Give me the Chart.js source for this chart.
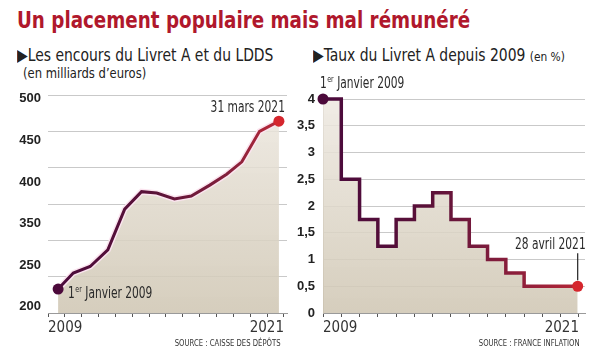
<!DOCTYPE html>
<html lang="fr">
<head>
<meta charset="utf-8">
<title>Un placement populaire mais mal rémunéré</title>
<script src="https://cdn.jsdelivr.net/npm/chart.js@4.4.1/dist/chart.umd.min.js"></script>
<style>
  body { margin: 0; background: #fff; }
  #page {
    position: relative; width: 602px; height: 354px; overflow: hidden;
    font-family: 'DejaVu Sans Condensed', sans-serif; color: #222;
  }
  .abs { position: absolute; white-space: nowrap; line-height: 1; margin: 0; transform-origin: 0 0; }
  h1.abs { font-size: 23px; font-weight: bold; color: #b0182c; left: 17px; top: 9px; transform: scaleX(0.885); }
  .sub { font-size: 17px; top: 47px; transform: scaleX(0.91); }
  .sub small { font-size: 13px; }
  .unit { font-size: 14px; left: 23px; top: 66px; transform: scaleX(0.92); }
  .src { font-size: 9px; color: #333; top: 339px; transform-origin: 100% 0; transform: scaleX(0.85); }
  .box { position: absolute; top: 70px; }
</style>
</head>
<body>
<div id="page">
  <h1 class="abs">Un placement populaire mais mal rémunéré</h1>
  <div class="abs sub" style="left:17px">▶Les encours du Livret A et du LDDS</div>
  <div class="abs unit">(en milliards d’euros)</div>
  <div class="abs sub" style="left:313px">▶Taux du Livret A depuis 2009 <small>(en %)</small></div>

  <div class="box" style="left:0"><canvas id="encours" width="300" height="280"></canvas></div>
  <div class="box" style="left:285px"><canvas id="taux" width="317" height="280"></canvas></div>

  <div class="abs src" style="right:321px">SOURCE : CAISSE DES DÉPÔTS</div>
  <div class="abs src" style="right:22px">SOURCE : FRANCE INFLATION</div>
</div>
<script>
// encours du Livret A + LDDS (milliards d'euros), position in axis graduations
const encoursPos = [0.6, 1.5, 2.5, 3.55, 4.55, 5.55, 6.45, 7.5, 8.5, 9.6, 10.6, 11.5, 12.55, 13.7];
const encoursVal = [233, 255, 264, 287, 343, 367, 365, 357, 361, 376, 391, 408, 450, 464];
const encoursLabels = ['200', '250', '350', '400', '450', '500'];

// taux du Livret A (%), one step per graduation
const tauxPos = [0, 1, 2, 3, 4, 5, 6, 7, 8, 9, 10, 11, 13.93];
const tauxVal = [4, 2.5, 1.75, 1.25, 1.75, 2, 2.25, 1.75, 1.25, 1, 0.75, 0.5, 0.5];
const tauxLabels = ['0', '0,5', '1', '1,5', '2', '2,5', '3', '3,5', '4'];

const graduations = [0, 1, 2, 3, 4, 5, 6, 7, 8, 9, 10, 11, 12, 13, 14];
const axisYears = ['2009', '2021'];

const startNote = ['1', 'er', ' Janvier 2009'];
const endNoteEncours = '31 mars 2021';
const endNoteTaux = '28 avril 2021';

const FONT = "'DejaVu Sans Condensed', sans-serif";
const TICKFONT = "'Liberation Sans', Arial, sans-serif";
const NARROW = 0.79; // horizontal squeeze of the note texts
const plum = '#4c0a3b';
const dotRed = '#d5262d';

function lineGradient(chart, stops) {
  const a = chart.chartArea;
  if (!a) return stops[0][1];
  const g = chart.ctx.createLinearGradient(a.left, 0, a.right, 0);
  stops.forEach(s => g.addColorStop(s[0], s[1]));
  return g;
}

function fillGradient(chart) {
  const a = chart.chartArea;
  if (!a) return 'rgba(220,212,196,0.85)';
  const g = chart.ctx.createLinearGradient(0, a.top, 0, a.bottom);
  g.addColorStop(0, 'rgba(238,233,225,0.85)');
  g.addColorStop(1, 'rgba(208,199,180,0.88)');
  return g;
}

function narrowText(ctx, text, x, y, align) {
  ctx.save();
  ctx.translate(x, y);
  ctx.scale(NARROW, 1);
  ctx.textAlign = align;
  ctx.textBaseline = 'alphabetic';
  ctx.font = '15px ' + FONT;
  ctx.fillText(text, 0, 0);
  ctx.restore();
}

function drawStartNote(ctx, x, y) {
  ctx.save();
  ctx.translate(x, y);
  ctx.scale(NARROW, 1);
  ctx.textAlign = 'left';
  ctx.textBaseline = 'alphabetic';
  ctx.font = '15px ' + FONT;
  ctx.fillText(startNote[0], 0, 0);
  let w = ctx.measureText(startNote[0]).width;
  ctx.font = '9px ' + FONT;
  ctx.fillText(startNote[1], w + 0.5, -6);
  w += ctx.measureText(startNote[1]).width + 0.5;
  ctx.font = '15px ' + FONT;
  ctx.fillText(startNote[2], w, 0);
  ctx.restore();
}

const xAxis = (max) => ({
  type: 'linear',
  min: 0,
  max: max,
  afterBuildTicks: s => { s.ticks = graduations.map(v => ({ value: v })); },
  afterFit: s => { s.height = 30; },
  grid: { drawOnChartArea: false, drawTicks: true, tickLength: 4, color: '#555' },
  border: { display: true, color: '#9a9a9a' },
  ticks: {
    autoSkip: false, maxRotation: 0, align: 'inner', padding: 2, color: '#333',
    font: { family: FONT, size: 15 },
    callback: (v, i) => i === 0 ? axisYears[0] : (i === graduations.length - 1 ? axisYears[1] : '')
  }
});

const baseOptions = {
  responsive: false,
  animation: false,
  events: [],
  plugins: {
    legend: { display: false },
    tooltip: { enabled: false },
    filler: { drawTime: 'beforeDatasetsDraw' }
  }
};

// left chart: encours
new Chart(document.getElementById('encours'), {
  type: 'line',
  data: {
    datasets: [
      {
        data: encoursPos.map((x, i) => ({ x: x, y: encoursVal[i] })),
        borderColor: c => lineGradient(c.chart, [[0, '#4a0a3c'], [0.45, '#5a1238'], [0.75, '#83203c'], [1, '#c22a38']]),
        borderWidth: 3,
        fill: 'start',
        backgroundColor: c => fillGradient(c.chart),
        pointRadius: c => (c.dataIndex === 0 || c.dataIndex === encoursVal.length - 1) ? 5.5 : 0,
        pointBackgroundColor: c => c.dataIndex === 0 ? plum : dotRed,
        pointBorderWidth: 0,
        clip: false
      },
      {
        // light halo under the line
        data: encoursPos.map((x, i) => ({ x: x, y: encoursVal[i] })),
        borderColor: '#fbe4ef',
        borderWidth: 6,
        pointRadius: 0,
        fill: false,
        clip: false
      }
    ]
  },
  options: {
    ...baseOptions,
    layout: { padding: { top: 25, right: 13, bottom: 7, left: 0 } },
    scales: {
      x: xAxis(14.18),
      y: {
        min: 200, max: 500,
        ticks: { stepSize: 50, display: false },
        afterFit: s => { s.width = 0; },
        grid: { color: '#c9c9c9', drawTicks: false },
        border: { display: false }
      },
      yl: {
        position: 'left',
        min: -0.1515, max: 5.091,
        afterBuildTicks: s => { s.ticks = encoursLabels.map((_, i) => ({ value: i })); },
        afterFit: s => { s.width = 48; },
        grid: { display: false, drawTicks: false },
        border: { display: false },
        ticks: {
          padding: 7, color: '#222', autoSkip: false,
          font: { family: TICKFONT, size: 13, weight: 'bold' },
          callback: (v, i) => encoursLabels[i]
        }
      }
    }
  },
  plugins: [{
    id: 'notesEncours',
    afterDatasetsDraw(chart) {
      const ctx = chart.ctx, x = chart.scales.x, y = chart.scales.y;
      const n = encoursVal.length - 1;
      const x0 = x.getPixelForValue(encoursPos[0]), y0 = y.getPixelForValue(encoursVal[0]);
      const x1 = x.getPixelForValue(encoursPos[n]), y1 = y.getPixelForValue(encoursVal[n]);
      ctx.save();
      ctx.fillStyle = '#2a2a2a';
      drawStartNote(ctx, x0 + 10, y0 + 9);
      narrowText(ctx, endNoteEncours, x1 + 6, y1 - 9, 'right');
      ctx.restore();
    }
  }]
});

// right chart: taux
new Chart(document.getElementById('taux'), {
  type: 'line',
  data: {
    datasets: [{
      data: tauxPos.map((x, i) => ({ x: x, y: tauxVal[i] })),
      stepped: 'before',
      borderColor: c => lineGradient(c.chart, [[0, '#4a0a3c'], [0.4, '#5a1038'], [0.6, '#781a3c'], [0.8, '#96203a'], [1, '#b82836']]),
      borderWidth: 3.5,
      fill: 'start',
      backgroundColor: c => fillGradient(c.chart),
      pointRadius: c => (c.dataIndex === 0 || c.dataIndex === tauxVal.length - 1) ? 5.5 : 0,
      pointBackgroundColor: c => c.dataIndex === 0 ? plum : dotRed,
      pointBorderWidth: 0,
      clip: false
    }]
  },
  options: {
    ...baseOptions,
    layout: { padding: { top: 29, right: 17, bottom: 7, left: 0 } },
    scales: {
      x: xAxis(14.33),
      y: {
        min: 0, max: 4,
        afterFit: s => { s.width = 38; },
        grid: { color: '#c9c9c9', drawTicks: false },
        border: { display: true, color: '#b5b0a8' },
        ticks: {
          stepSize: 0.5, padding: 8, color: '#222', autoSkip: false,
          font: { family: TICKFONT, size: 13, weight: 'bold' },
          callback: (v, i) => tauxLabels[i]
        }
      }
    }
  },
  plugins: [{
    id: 'notesTaux',
    afterDatasetsDraw(chart) {
      const ctx = chart.ctx, x = chart.scales.x, y = chart.scales.y;
      const n = tauxVal.length - 1;
      const x0 = x.getPixelForValue(tauxPos[0]), y0 = y.getPixelForValue(tauxVal[0]);
      const x1 = x.getPixelForValue(tauxPos[n]), y1 = y.getPixelForValue(tauxVal[n]);
      ctx.save();
      ctx.fillStyle = '#2a2a2a';
      drawStartNote(ctx, x0 - 3, y0 - 11);
      ctx.strokeStyle = '#222';
      ctx.lineWidth = 1.2;
      ctx.beginPath();
      ctx.moveTo(x1, y1 - 6);
      ctx.lineTo(x1, y1 - 33);
      ctx.stroke();
      narrowText(ctx, endNoteTaux, x1 + 8, y1 - 37, 'right');
      ctx.restore();
    }
  }]
});
</script>
</body>
</html>
